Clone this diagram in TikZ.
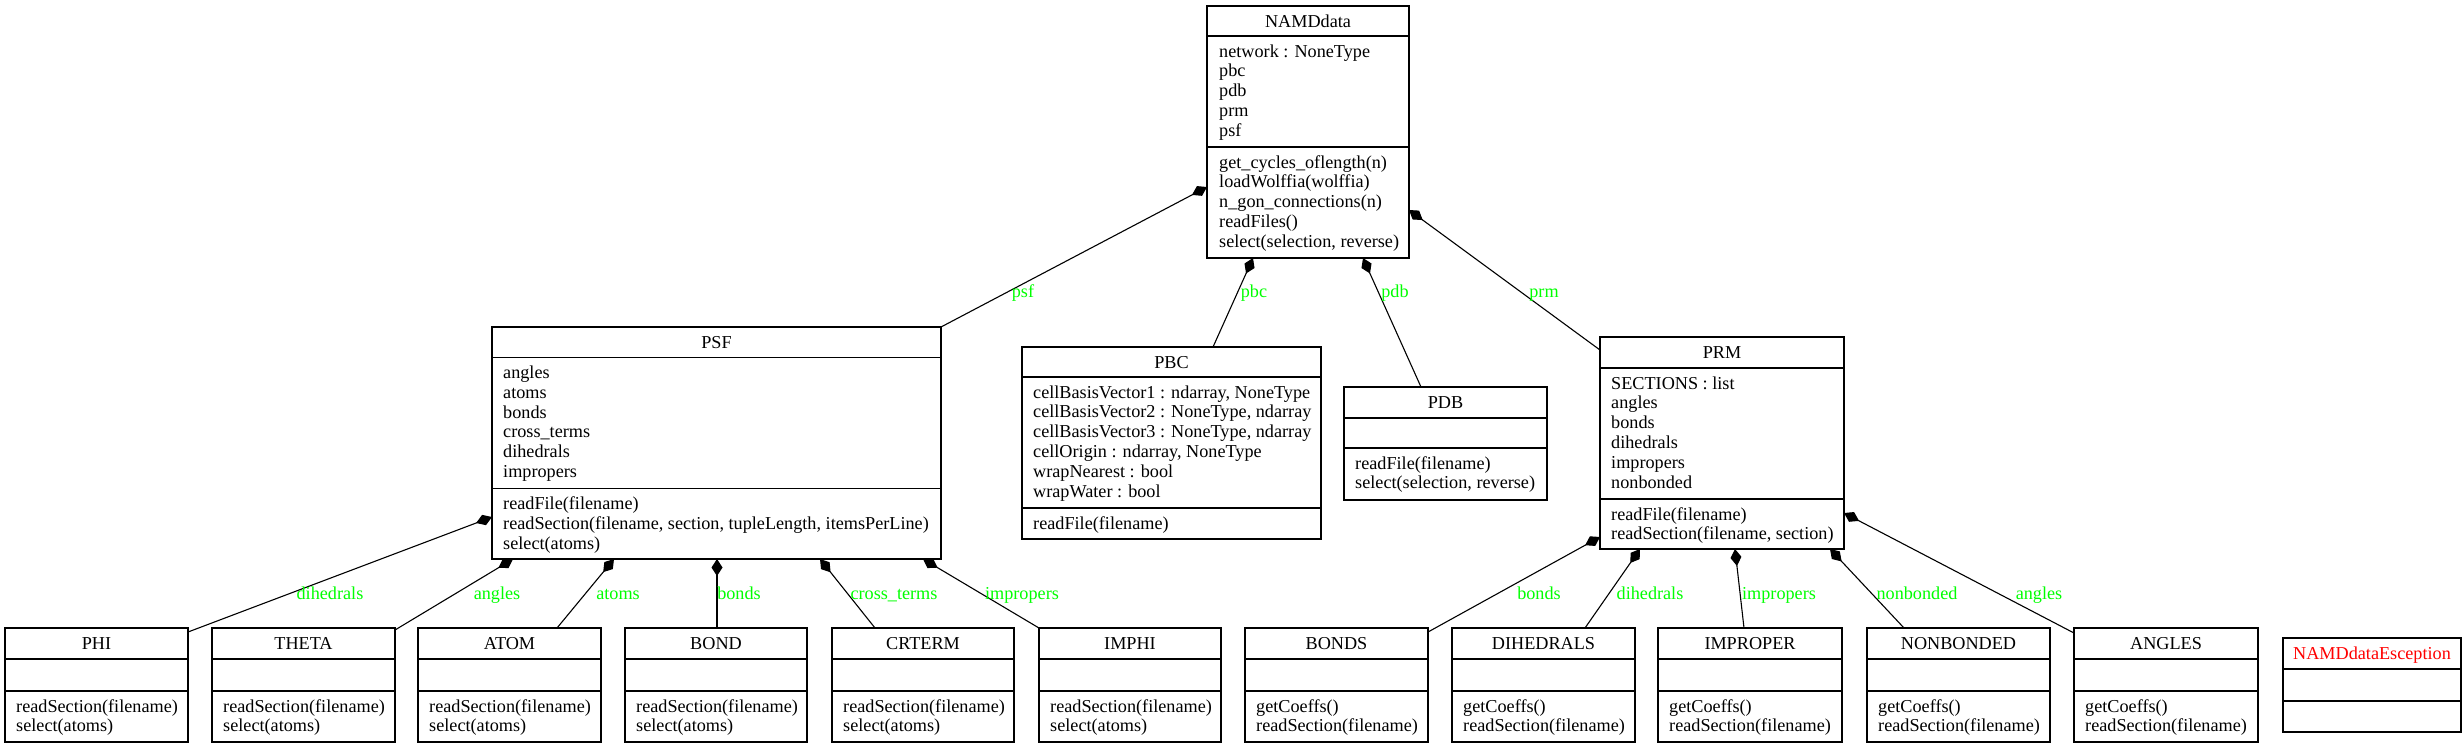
\documentclass[tikz,border=0pt]{standalone}
\usepackage{fontspec}
\setmainfont{Liberation Serif}
\usetikzlibrary{arrows.meta,calc}
\definecolor{lblgreen}{RGB}{0,255,0}
\definecolor{titlered}{RGB}{255,0,0}
\newcommand{\umlfont}{\fontsize{18.2}{19.8}\selectfont}
\tikzset{
  classbox/.style={draw=black, line width=1.2pt, inner sep=0pt, outer sep=0pt, rectangle},
  classline/.style={draw=black, line width=1.2pt},
  titletext/.style={anchor=base, inner sep=0pt, font=\umlfont},
  membertext/.style={anchor=base west, inner sep=0pt, font=\umlfont},
  edgelabel/.style={anchor=base, inner sep=0pt, font=\umlfont, text=lblgreen},
  comp/.style={line width=1.1pt, {Diamond[length=17pt,width=11pt]}-},
}
% name, left, top, right, bottom, header line y, separator y, title
\newcommand{\classbox}[8]{%
  \node[classbox, anchor=north west, minimum width={(#4-#2)*1pt}, minimum height={(#5-#3)*1pt}] (#1) at (#2,#3) {};
  \draw[classline] (#2,#6) -- (#4,#6);
  \draw[classline] (#2,#7) -- (#4,#7);
  \node[titletext] (#1-title) at ({(#2+#4)/2},{#3+21}) {#8};
}
% prefix, x, first baseline y, list
\newcommand{\members}[4]{%
  \foreach \txt [count=\i] in {#4} {
    \node[membertext] (#1-\i) at (#2,{#3+19.8*(\i-1)}) {\txt};
  }
}
\begin{document}
\begin{tikzpicture}[x=1pt,y=-1pt]
\path[fill=white, use as bounding box] (0,0) rectangle (2463,748);

% ---- NAMDdata
\classbox{NAMD}{1207}{6}{1409}{258}{36}{147}{NAMDdata}
\members{NAMDa}{1219}{57}{{network : NoneType},pbc,pdb,prm,psf}
\members{NAMDm}{1219}{168}{get\_cycles\_oflength(n),loadWolffia(wolffia),n\_gon\_connections(n),readFiles(),{select(selection, reverse)}}

% ---- PSF
\classbox{PSF}{492}{327}{941}{559}{357.5}{488.5}{PSF}
\members{PSFa}{503}{378.5}{angles,atoms,bonds,cross\_terms,dihedrals,impropers}
\members{PSFm}{503}{509.5}{readFile(filename),{readSection(filename, section, tupleLength, itemsPerLine)},select(atoms)}

% ---- PBC
\classbox{PBC}{1022}{347}{1321}{539}{377}{508}{PBC}
\members{PBCa}{1033}{398}{{cellBasisVector1 : ndarray, NoneType},{cellBasisVector2 : NoneType, ndarray},{cellBasisVector3 : NoneType, ndarray},{cellOrigin : ndarray, NoneType},{wrapNearest : bool},{wrapWater : bool}}
\members{PBCm}{1033}{529}{readFile(filename)}

% ---- PDB
\classbox{PDB}{1344}{387}{1547}{500}{418}{448}{PDB}
\members{PDBm}{1355}{469}{readFile(filename),{select(selection, reverse)}}

% ---- PRM
\classbox{PRM}{1600}{337}{1844}{549}{368}{499}{PRM}
\members{PRMa}{1611}{389}{{SECTIONS : list},angles,bonds,dihedrals,impropers,nonbonded}
\members{PRMm}{1611}{520}{readFile(filename),{readSection(filename, section)}}

% ---- bottom row (PSF children)
\classbox{PHI}{5}{628}{188}{742}{659}{691}{PHI}
\members{PHIm}{16}{712}{readSection(filename),select(atoms)}
\classbox{THETA}{212}{628}{395}{742}{659}{691}{THETA}
\members{THETAm}{223}{712}{readSection(filename),select(atoms)}
\classbox{ATOM}{418}{628}{601}{742}{659}{691}{ATOM}
\members{ATOMm}{429}{712}{readSection(filename),select(atoms)}
\classbox{BOND}{625}{628}{807}{742}{659}{691}{BOND}
\members{BONDm}{636}{712}{readSection(filename),select(atoms)}
\classbox{CRTERM}{832}{628}{1014}{742}{659}{691}{CRTERM}
\members{CRTERMm}{843}{712}{readSection(filename),select(atoms)}
\classbox{IMPHI}{1039}{628}{1221}{742}{659}{691}{IMPHI}
\members{IMPHIm}{1050}{712}{readSection(filename),select(atoms)}

% ---- bottom row (PRM children)
\classbox{BONDS}{1245}{628}{1428}{742}{659}{691}{BONDS}
\members{BONDSm}{1256}{712}{getCoeffs(),readSection(filename)}
\classbox{DIHEDRALS}{1452}{628}{1635}{742}{659}{691}{DIHEDRALS}
\members{DIHEDRALSm}{1463}{712}{getCoeffs(),readSection(filename)}
\classbox{IMPROPER}{1658}{628}{1842}{742}{659}{691}{IMPROPER}
\members{IMPROPERm}{1669}{712}{getCoeffs(),readSection(filename)}
\classbox{NONBONDED}{1867}{628}{2050}{742}{659}{691}{NONBONDED}
\members{NONBONDEDm}{1878}{712}{getCoeffs(),readSection(filename)}
\classbox{ANGLES}{2074}{628}{2258}{742}{659}{691}{ANGLES}
\members{ANGLESm}{2085}{712}{getCoeffs(),readSection(filename)}

% ---- exception class
\classbox{EXC}{2283}{638}{2461}{732}{669}{701}{\textcolor{titlered}{NAMDdataEsception}}

% ---- compositions from NAMDdata
\draw[comp] ($(NAMD.north west)+(0,181)$) -- (PSF.north east);
\draw[comp] ($(NAMD.south west)+(46,0)$) -- ($(PBC.north west)+(191,0)$);
\draw[comp] ($(NAMD.south west)+(156,0)$) -- ($(PDB.north west)+(77,0)$);
\draw[comp] ($(NAMD.north east)+(0,204)$) -- ($(PRM.north west)+(0,13)$);
\node[edgelabel] (l-psf) at (1023,297) {psf};
\node[edgelabel] (l-pbc) at (1254,297) {pbc};
\node[edgelabel] (l-pdb) at (1395,297) {pdb};
\node[edgelabel] (l-prm) at (1544,297) {prm};

% ---- compositions from PSF
\draw[comp] ($(PSF.north west)+(0,190)$) -- ($(PHI.north east)+(0,4)$);
\draw[comp] ($(PSF.south west)+(21,0)$) -- ($(THETA.north east)+(0,2)$);
\draw[comp] ($(PSF.south west)+(122,0)$) -- ($(ATOM.north west)+(139,0)$);
\draw[comp] ($(PSF.south west)+(225,0)$) -- ($(BOND.north west)+(92,0)$);
\draw[comp] ($(PSF.south west)+(328,0)$) -- ($(CRTERM.north west)+(43,0)$);
\draw[comp] ($(PSF.south west)+(431,0)$) -- (IMPHI.north west);
\node[edgelabel] (l-dih1) at (330,599) {dihedrals};
\node[edgelabel] (l-ang1) at (497,599) {angles};
\node[edgelabel] (l-atm) at (618,599) {atoms};
\node[edgelabel] (l-bnd1) at (739,599) {bonds};
\node[edgelabel] (l-crt) at (894,599) {cross\_terms};
\node[edgelabel] (l-imp1) at (1022,599) {impropers};

% ---- compositions from PRM
\draw[comp] ($(PRM.north west)+(0,200)$) -- ($(BONDS.north east)+(0,4)$);
\draw[comp] ($(PRM.south west)+(40,0)$) -- ($(DIHEDRALS.north west)+(133,0)$);
\draw[comp] ($(PRM.south west)+(135,0)$) -- ($(IMPROPER.north west)+(86,0)$);
\draw[comp] ($(PRM.south west)+(230,0)$) -- ($(NONBONDED.north west)+(37,0)$);
\draw[comp] ($(PRM.north east)+(0,176)$) -- ($(ANGLES.north west)+(0,5)$);
\node[edgelabel] (l-bnd2) at (1539,599) {bonds};
\node[edgelabel] (l-dih2) at (1650,599) {dihedrals};
\node[edgelabel] (l-imp2) at (1779,599) {impropers};
\node[edgelabel] (l-nb) at (1917,599) {nonbonded};
\node[edgelabel] (l-ang2) at (2039,599) {angles};
\end{tikzpicture}
\end{document}
